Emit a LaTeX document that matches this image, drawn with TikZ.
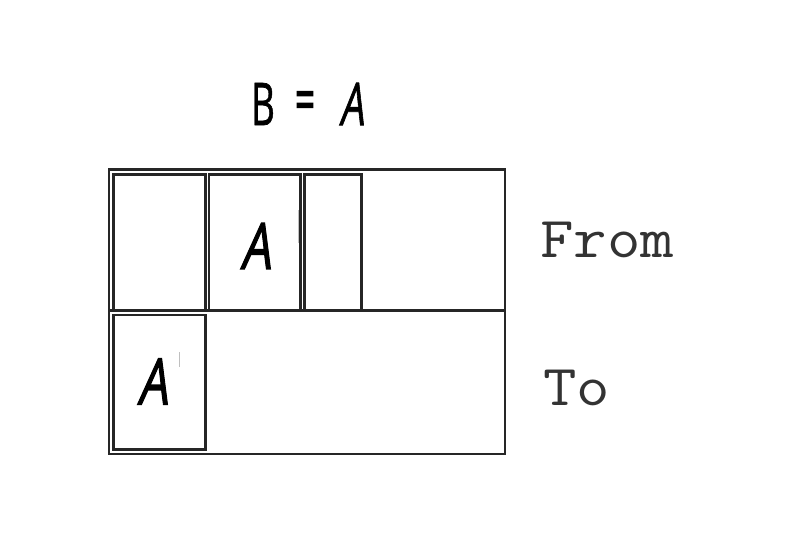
\documentclass[tikz,border=0pt]{standalone}
\usepackage{fontspec}
\newfontfamily\handfont[FakeBold=1.2]{Open Sans}
\newfontfamily\handeq[FakeBold=2.5]{Open Sans}
\newfontfamily\handslant[FakeSlant=0.22,FakeBold=2]{Open Sans}
\newfontfamily\handslanttitle[FakeSlant=0.22,FakeBold=1.5]{Open Sans}
\begin{document}
\begin{tikzpicture}[x=1pt,y=-1pt,
  frame/.style={draw=black!85,line width=2.1pt},
  handA/.style={inner sep=0pt,font=\handslant\fontsize{64}{64}\selectfont,xscale=0.74,transform shape},
  handT/.style={inner sep=0pt,font=\handfont\fontsize{59}{59}\selectfont,xscale=0.62,transform shape},
  label/.style={inner sep=0pt,anchor=base west,font=\ttfamily\fontsize{58}{58}\selectfont,text=black!80,xscale=1.12,transform shape},
  speck/.style={draw=black!25,line width=1pt}]
\useasboundingbox (0,0) rectangle (788,550);
% outer frame and divider
\draw[frame] (109,169.5) rectangle (505,454);
\draw[frame] (109,310.5) -- (505,310.5);
% top row boxes
\draw[frame] (113.5,174.5) rectangle (205.5,310.5);
\draw[frame] (209,174.5) rectangle (300.5,310.5);
\draw[frame] (304.5,174.5) rectangle (361.5,310.5);
% bottom box
\draw[frame] (113.5,315) rectangle (205.5,449.5);
% faint specks
\draw[speck] (298,210) -- (298,243);
\draw[speck] (179,352) -- (179,367);
% letters in boxes
\node[handA] (a1) at (255.5,246) {A};
\node[handA] (a2) at (152.5,381.5) {A};
% title
\node[handT] (tb) at (263,104) {B};
\node[handT,font=\handeq\fontsize{59}{59}\selectfont,xscale=0.95] (teq) at (305,106) {=};
\node[handT,font=\handslanttitle\fontsize{59}{59}\selectfont,xscale=1.05] (ta) at (351.5,104) {A};
% labels
\node[label] (from) at (540,257) {From};
\node[label] (to) at (543,405) {To};
\end{tikzpicture}
\end{document}
